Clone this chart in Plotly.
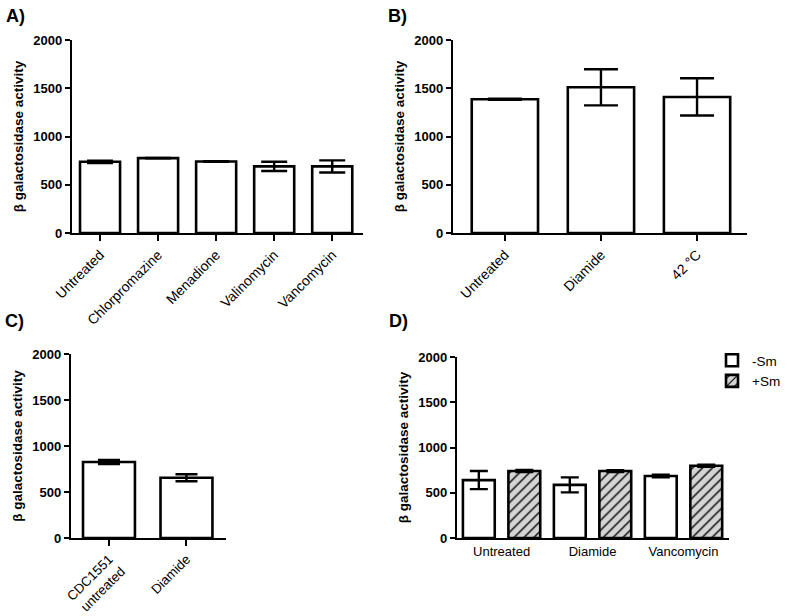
import plotly.graph_objects as go

W, H = 787, 616

# ---- data ----
a_cats = ["Untreated", "Chlorpromazine", "Menadione", "Valinomycin", "Vancomycin"]
a_vals = [738, 776, 741, 690, 690]
a_err = [12, 3, 3, 48, 63]

b_cats = ["Untreated", "Diamide", "42 °C"]
b_vals = [1386, 1510, 1410]
b_err = [6, 187, 193]

c_cats = ["CDC1551<br>untreated", "Diamide"]
c_vals = [826, 655]
c_err = [22, 38]

d_cats = ["Untreated", "Diamide", "Vancomycin"]
d_minus = [640, 587, 685]
d_minus_err = [100, 83, 14]
d_plus = [740, 740, 799]
d_plus_err = [12, 10, 12]

y_ticks = [0, 500, 1000, 1500, 2000]
y_title = "β galactosidase activity"

FONT = "Liberation Sans, Arial, sans-serif"


def px_x(a, b):
    return [a / W, b / W]


def px_y(top, bottom):
    return [1 - bottom / H, 1 - top / H]


fig = go.Figure()

# panel geometry (pixels)
panels = {
    "A": dict(x=(72, 363), y=(40, 233), xr=(-0.483, 4.53)),
    "B": dict(x=(453, 747), y=(40, 233), xr=(-0.54, 2.52)),
    "C": dict(x=(71, 226), y=(354, 538), xr=(-0.49, 1.51)),
    "D": dict(x=(457, 729), y=(357, 538), xr=(-0.49, 2.5)),
}

bar_line = dict(color="black", width=2.6)


def err(arr, w):
    return dict(type="data", array=arr, visible=True, color="black", thickness=2.4, width=w)


fig.add_trace(go.Bar(x=list(range(len(a_cats))), y=a_vals, error_y=err(a_err, 13), width=0.69,
                     marker=dict(color="white", line=bar_line), xaxis="x", yaxis="y", showlegend=False))
fig.add_trace(go.Bar(x=list(range(len(b_cats))), y=b_vals, error_y=err(b_err, 17), width=0.69,
                     marker=dict(color="white", line=bar_line), xaxis="x2", yaxis="y2", showlegend=False))
fig.add_trace(go.Bar(x=list(range(len(c_cats))), y=c_vals, error_y=err(c_err, 11), width=0.67,
                     marker=dict(color="white", line=bar_line), xaxis="x3", yaxis="y3", showlegend=False))
fig.add_trace(go.Bar(x=list(range(len(d_cats))), y=d_minus, error_y=err(d_minus_err, 9), width=0.35, offset=-0.425,
                     name="-Sm", marker=dict(color="white", line=bar_line), xaxis="x4", yaxis="y4"))
fig.add_trace(go.Bar(x=list(range(len(d_cats))), y=d_plus, error_y=err(d_plus_err, 9), width=0.35, offset=0.075,
                     name="+Sm",
                     marker=dict(color="#d4d4d4", line=bar_line,
                                 pattern=dict(shape="/", fgcolor="black", bgcolor="#d4d4d4", size=7, solidity=0.2)),
                     xaxis="x4", yaxis="y4"))

axis_common = dict(showline=True, linecolor="black", linewidth=2.4, ticks="outside", tickcolor="black",
                   tickwidth=2.4, showgrid=False, zeroline=False, automargin=False)

layout = dict(
    template="none",
    width=W, height=H, margin=dict(l=0, r=0, t=0, b=0, autoexpand=False),
    plot_bgcolor="white", paper_bgcolor="white", barmode="overlay",
    font=dict(family=FONT, color="black"),
    legend=dict(x=712 / W, y=1 - 345 / H, xanchor="left", yanchor="top",
                font=dict(size=13.5, family=FONT), bgcolor="rgba(0,0,0,0)", tracegroupgap=0,
                borderwidth=0),
)

cat_lists = {"A": a_cats, "B": b_cats, "C": c_cats, "D": d_cats}
names = ["A", "B", "C", "D"]
for i, key in enumerate(names):
    p = panels[key]
    sx = "" if i == 0 else str(i + 1)
    cats = cat_lists[key]
    xa = dict(axis_common, domain=px_x(*p["x"]), range=list(p["xr"]), anchor="y" + sx,
              tickvals=list(range(len(cats))), ticktext=cats, ticklen=6,
              tickfont=dict(size=14, family=FONT))
    if key == "D":
        xa.update(ticks="", tickangle=0, tickfont=dict(size=13, family=FONT))
    elif key == "C":
        xa.update(tickangle=-45, tickfont=dict(size=13.3, family=FONT))
    else:
        xa.update(tickangle=-45)
    ya = dict(axis_common, domain=px_y(*p["y"]), range=[0, 2000], anchor="x" + sx,
              tickvals=y_ticks, ticklen=5,
              tickfont=dict(size=13, family=FONT, weight="bold"),
              title=dict(text=y_title, font=dict(size=13.5, family=FONT, weight="bold"), standoff=7))
    layout["xaxis" + sx] = xa
    layout["yaxis" + sx] = ya

label_pos = {"A": (4, 4), "B": (386, 4), "C": (3, 309), "D": (387, 309)}
annotations = []
for key, (lx, ly) in label_pos.items():
    annotations.append(dict(text=key + ")", x=lx / W, y=1 - ly / H, xref="paper", yref="paper",
                            xanchor="left", yanchor="top", showarrow=False,
                            font=dict(size=18, family=FONT, weight="bold")))
layout["annotations"] = annotations

fig.update_layout(**layout)
fig.write_html("out.html", config={"displayModeBar": False},
               post_script="document.body.style.margin='0';document.body.style.overflow='hidden';")
